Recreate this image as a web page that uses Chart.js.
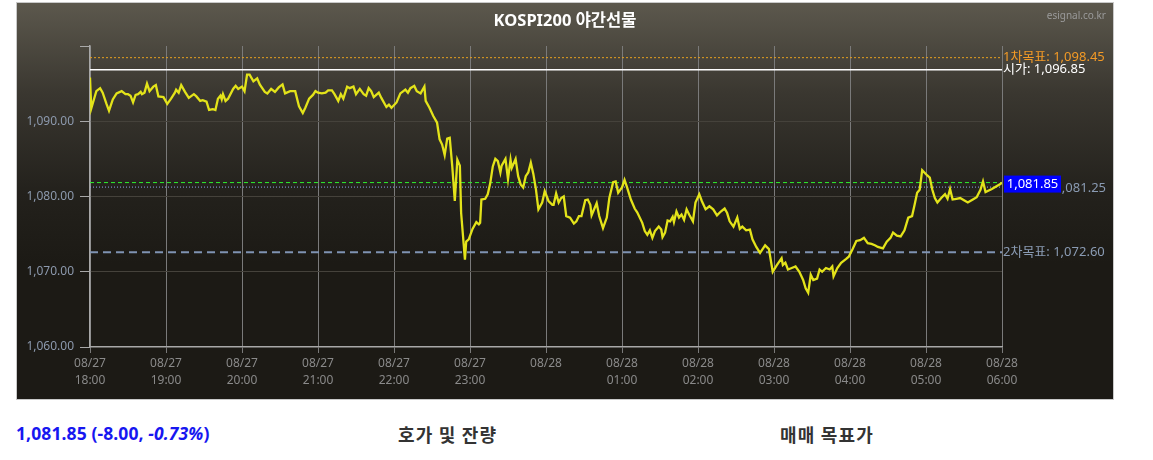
<!DOCTYPE html>
<html>
<head>
<meta charset="utf-8">
<script src="https://cdn.jsdelivr.net/npm/chart.js@4"></script>
<style>
  html, body { margin:0; padding:0; background:#fff; width:1153px; height:460px; overflow:hidden; font-family:"Noto Sans","Noto Sans CJK KR",sans-serif; }
  #panel { position:absolute; left:16px; top:2px; width:1098px; height:398px; box-sizing:border-box; border:1px solid #c9c9c9;
           background:linear-gradient(to bottom,#5c584d 0px,#3a3730 90px,#23211c 190px,#1c1a15 260px,#1c1a15 100%); }
  #c { position:absolute; left:0; top:0; }
  #title { position:absolute; left:0; width:100%; top:4px; text-align:center; color:#fff; font-weight:bold; font-size:16.5px; font-family:"Noto Sans","Noto Sans CJK KR",sans-serif; }
  #site { position:absolute; right:7px; top:5px; color:#9a9a9a; font-size:10px; font-family:"Noto Sans",sans-serif; }
  .below { position:absolute; top:422px; font-weight:bold; white-space:nowrap; }
  #quote { left:16px; color:#1717f0; font-size:17.5px; font-family:"Noto Sans",sans-serif; letter-spacing:0.1px; top:421px; }
  #quote i { font-style:italic; }
  #h1 { left:398px; color:#333; font-size:18px; font-family:"Noto Sans CJK KR",sans-serif; top:421px; letter-spacing:1.2px; }
  #h2 { left:780px; color:#333; font-size:18px; font-family:"Noto Sans CJK KR",sans-serif; top:421px; letter-spacing:1.2px; }
</style>
</head>
<body>
<div id="panel">
  <canvas id="c" width="1096" height="396"></canvas>
  <div id="title">KOSPI200 야간선물</div>
  <div id="site">esignal.co.kr</div>
</div>
<div id="quote" class="below">1,081.85 (-8.00, <i>-0.73%</i>)</div>
<div id="h1" class="below">호가 및 잔량</div>
<div id="h2" class="below">매매 목표가</div>
<script>
// ---- data (minutes after 08/27 18:00, price) ----
const minutesFrom1800 = [
  0,1,5,8,10,13,15,18,21,25,
  28,30,32,34,36,38,40,41,43,45,
  47,50,52,54,58,61,64,67,68,70,
  72,75,78,82,84,87,89,92,94,97,
  99,101,103,104,105,107,109,113,115,117,
  120,122,124,126,129,132,134,138,140,143,
  146,149,152,154,158,162,165,168,170,173,
  176,178,180,183,186,
  188,191,193,196,198,200,203,205,208,210,
  213,216,218,220,222,224,228,230,234,236,
  238,242,245,249,251,253,256,258,261,264,
  265,268,271,274,276,278,280,282,284,286,
  288,290,292,293,296,297,299,302,305,307,
  308,309,312,314,316,318,320,322,324,325,
  328,330,332,333,336,338,340,342,344,346,
  348,350,352,354,357,359,362,365,366,368,
  370,372,374,376,379,382,384,386,388,391,
  393,395,396,400,402,405,408,410,413,415,
  417,420,422,424,427,430,432,436,438,440,
  442,444,446,449,451,452,454,456,458,460,
  461,463,465,467,469,471,473,476,478,481,
  483,486,489,492,495,498,501,503,505,508,
  511,513,515,518,521,523,526,529,531,533,
  536,537,539,542,546,547,549,551,554,557,
  560,563,565,567,569,571,574,576,578,581,
  584,586,587,590,593,597,599,602,605,608,
  611,614,617,620,622,626,629,632,634,637,
  640,643,646,649,651,653,655,657,661,663,
  665,667,669,672,675,677,679,681,684,687,
  690,693,697,700,703,705,707,712,716,719,
  720
];
const prices = [
  1095.8,1091.7,1094.0,1094.4,1093.8,1092.3,1091.4,1092.9,1093.7,1094.0,
  1093.6,1093.6,1093.4,1092.5,1093.5,1093.6,1093.9,1093.6,1093.8,1095.0,
  1094.0,1094.6,1094.8,1093.3,1093.2,1092.3,1093.0,1093.8,1094.2,1093.8,
  1094.8,1093.9,1093.1,1093.6,1093.3,1092.7,1092.8,1092.6,1091.5,1091.6,
  1091.5,1093.0,1093.4,1092.9,1093.6,1092.7,1093.0,1094.3,1094.7,1094.3,
  1094.6,1094.0,1096.2,1096.2,1095.3,1095.7,1094.9,1093.9,1093.7,1094.3,
  1093.9,1094.5,1094.9,1093.7,1094.0,1094.0,1092.0,1091.1,1091.8,1093.0,
  1093.5,1094.0,1093.8,1093.7,1093.8,
  1094.1,1094.1,1093.6,1092.7,1093.6,1093.0,1094.6,1094.4,1094.6,1093.6,
  1094.3,1093.6,1093.4,1094.4,1094.0,1093.2,1093.8,1093.1,1091.9,1092.2,
  1091.8,1092.5,1093.7,1094.2,1093.8,1094.4,1094.7,1094.0,1093.7,1094.6,
  1092.7,1091.8,1090.7,1089.8,1087.6,1086.9,1085.5,1087.7,1087.8,1084.0,
  1079.4,1084.9,1084.1,1077.8,1071.6,1074.0,1074.3,1075.7,1076.6,1076.3,
  1076.5,1079.6,1079.7,1080.3,1081.8,1084.0,1085.0,1084.7,1083.2,1084.1,
  1085.0,1082.3,1084.9,1083.8,1085.0,1082.7,1081.6,1081.2,1082.7,1083.2,
  1084.5,1083.0,1081.0,1078.3,1079.2,1080.7,1079.4,1078.9,1078.9,1080.4,
  1079.2,1079.8,1080.0,1077.4,1077.2,1076.4,1076.7,1077.4,1077.4,1079.5,
  1079.6,1078.9,1077.5,1079.1,1077.4,1075.8,1077.2,1079.8,1081.9,1082.0,
  1080.5,1081.2,1082.2,1081.2,1079.6,1078.4,1077.9,1076.5,1075.4,1074.9,
  1075.5,1074.5,1075.4,1076.0,1075.6,1074.6,1075.2,1076.8,1076.7,1077.3,
  1076.6,1078.0,1077.2,1077.6,1076.9,1078.3,1077.6,1076.7,1079.2,1080.3,
  1079.4,1078.3,1078.7,1078.3,1077.5,1078.0,1078.4,1077.8,1076.7,1076.0,
  1077.2,1075.7,1076.0,1075.5,1075.6,1074.3,1073.3,1072.5,1073.0,1073.5,
  1073.0,1072.0,1070.0,1070.8,1071.8,1070.9,1071.2,1070.3,1070.5,1070.7,
  1070.0,1068.9,1067.8,1067.2,1069.6,1068.9,1069.1,1070.3,1070.0,1070.5,
  1070.3,1070.7,1069.4,1070.5,1071.2,1071.7,1072.0,1073.0,1074.1,1074.2,
  1074.5,1073.8,1073.7,1073.5,1073.3,1073.1,1074.0,1074.5,1075.2,1074.8,
  1074.7,1075.5,1077.2,1077.4,1078.9,1080.5,1080.9,1083.5,1082.8,1082.5,
  1080.9,1079.8,1079.2,1079.8,1080.3,1079.7,1081.0,1079.6,1079.7,1079.8,
  1079.5,1079.2,1079.6,1079.9,1080.9,1082.0,1080.6,1081.0,1081.4,1081.7,
  1081.85
];
const xTickDates = ['08/27','08/27','08/27','08/27','08/27','08/27','08/28','08/28','08/28','08/28','08/28','08/28','08/28'];
const xTickTimes = ['18:00','19:00','20:00','21:00','22:00','23:00','','01:00','02:00','03:00','04:00','05:00','06:00'];
const yMin = 1060, yMax = 1100, yStep = 10;
const target1 = 1098.45;   // 1차목표
const openPrice = 1096.85; // 시가
const lastPrice = 1081.85; // 현재가
const basePrice = 1081.25; // 기준가
const target2 = 1072.60;   // 2차목표

const fmt = v => v.toLocaleString('en-US', {minimumFractionDigits:2, maximumFractionDigits:2});
const flat = v => [{x:0,y:v},{x:720,y:v}];

const labelPlugin = {
  id:'levelLabels',
  afterDraw(chart){
    const ctx = chart.ctx, y = chart.scales.y, ca = chart.chartArea;
    const x0 = ca.right + 1;
    ctx.save();
    ctx.font = '13px "Noto Sans","Noto Sans CJK KR",sans-serif';
    ctx.textBaseline = 'middle';
    ctx.textAlign = 'left';
    ctx.fillStyle = '#f39a26';
    ctx.fillText('1차목표: ' + fmt(target1), x0, y.getPixelForValue(target1));
    ctx.fillStyle = '#ffffff';
    ctx.fillText('시가: ' + fmt(openPrice), x0, y.getPixelForValue(openPrice));
    ctx.fillStyle = '#8a9bb3';
    ctx.fillText('2차목표: ' + fmt(target2), x0, y.getPixelForValue(target2));
    ctx.textAlign = 'right';
    ctx.fillText(fmt(basePrice), x0 + 103, y.getPixelForValue(basePrice) + 1);
    // current price box
    const py = y.getPixelForValue(lastPrice);
    ctx.fillStyle = '#0000ff';
    ctx.fillRect(x0 + 1, py - 7, 57, 17);
    ctx.fillStyle = '#ffffff';
    ctx.textAlign = 'center';
    ctx.fillText(fmt(lastPrice), x0 + 29.5, py + 1.5);
    ctx.restore();
  }
};

new Chart(document.getElementById('c'), {
  type:'line',
  data:{
    datasets:[
      { data: minutesFrom1800.map((m,i)=>({x:m,y:prices[i]})), borderColor:'#e3e31a', borderWidth:2.3, pointRadius:0, tension:0, order:0 },
      { data: flat(target1), borderColor:'#e8a020', borderWidth:1, borderDash:[2,2], pointRadius:0, order:1 },
      { data: flat(openPrice), borderColor:'#ffffff', borderWidth:1.5, pointRadius:0, order:1 },
      { data: flat(lastPrice), borderColor:'#2ef02e', borderWidth:1, borderDash:[4,3], pointRadius:0, order:1 },
      { data: flat(basePrice), borderColor:'#8fa3e8', borderWidth:1, borderDash:[1,2], pointRadius:0, order:1 },
      { data: flat(target2), borderColor:'#7f93b2', borderWidth:2, borderDash:[8,5], pointRadius:0, order:1 }
    ]
  },
  options:{
    responsive:false, animation:false,
    layout:{ padding:{ top:43, right:111, left:0, bottom:0 } },
    plugins:{ legend:{display:false}, tooltip:{enabled:false}, title:{display:false} },
    scales:{
      x:{
        type:'linear', min:0, max:720,
        afterFit(s){ s.height = 52; },
        ticks:{ stepSize:60, autoSkip:false, maxRotation:0, color:'#8a8a8a', padding:2,
                font:{ size:12, family:'"Noto Sans",sans-serif', lineHeight:1.4 },
                callback(v){ const i = Math.round(v/60); return xTickTimes[i] ? [xTickDates[i], xTickTimes[i]] : [xTickDates[i]]; } },
        grid:{ color:'#7a7a7a', tickColor:'#7a7a7a', tickLength:6, lineWidth:1 },
        border:{ color:'#a8a8a8', width:1.5 }
      },
      y:{
        min:yMin, max:yMax,
        afterFit(s){ s.width = 73; },
        ticks:{ stepSize:yStep, color:'#8c99ad', padding:6,
                font:{ size:12, family:'"Noto Sans",sans-serif' },
                callback(v){ return v === yMax ? '' : fmt(v); } },
        grid:{ color: c => (c.tick && (c.tick.value === yMax || c.tick.value === yMin)) ? 'rgba(0,0,0,0)' : '#45423b',
               tickColor:'#a8a8a8', tickLength:10 },
        border:{ color:'#a8a8a8', width:1.5 }
      }
    }
  },
  plugins:[labelPlugin]
});
</script>
</body>
</html>
